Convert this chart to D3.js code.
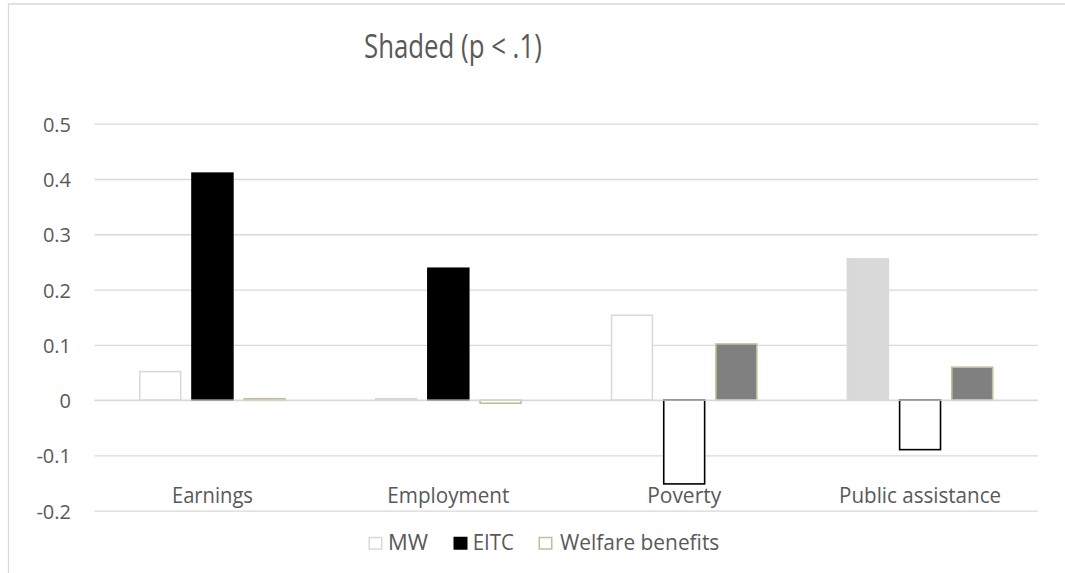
<!DOCTYPE html>
<html>
<head>
<meta charset="utf-8">
<script src="https://cdn.jsdelivr.net/npm/d3@7"></script>
<style>
  html, body { margin: 0; padding: 0; background: #fff; }
  svg { display: block; }
  text { font-family: "Open Sans", "Noto Sans", sans-serif; fill: #595959; }
</style>
</head>
<body>
<svg id="chart" width="1065" height="573"></svg>
<script>
// ---- data ----
const categories = ["Earnings", "Employment", "Poverty", "Public assistance"];
const seriesNames = ["MW", "EITC", "Welfare benefits"];
const mwValues = [0.053, 0.004, 0.155, 0.257];
const eitcValues = [0.412, 0.240, -0.153, -0.091];
const welfareValues = [0.004, -0.007, 0.103, 0.061];
// estimates significant at p < .1 are drawn shaded
const mwShaded = [false, false, false, true];
const eitcShaded = [true, true, false, false];
const welfareShaded = [false, false, true, true];
const yTicks = [-0.2, -0.1, 0, 0.1, 0.2, 0.3, 0.4, 0.5];
const chartTitle = "Shaded (p < .1)";

// ---- styling ----
const seriesStyle = {
  "MW": { stroke: "#d9d9d9", shadedFill: "#d9d9d9" },
  "EITC": { stroke: "#000000", shadedFill: "#000000" },
  "Welfare benefits": { stroke: "#c4bd97", shadedFill: "#808080" }
};
const gridColor = "#d9d9d9";

const series = [
  { name: "MW", values: mwValues, shaded: mwShaded },
  { name: "EITC", values: eitcValues, shaded: eitcShaded },
  { name: "Welfare benefits", values: welfareValues, shaded: welfareShaded }
];

const svg = d3.select("#chart");

// chart frame (left and top edges of the chart area)
svg.append("line").attr("x1", 8.5).attr("x2", 8.5).attr("y1", 4).attr("y2", 573)
  .attr("stroke", gridColor).attr("stroke-width", 1.3);
svg.append("line").attr("x1", 8).attr("x2", 1065).attr("y1", 4).attr("y2", 4)
  .attr("stroke", gridColor).attr("stroke-width", 1.3);

// ---- scales ----
const plotLeft = 94.5, plotRight = 1038;
const x = d3.scaleBand().domain(categories).range([plotLeft, plotRight])
  .paddingInner(0).paddingOuter(0);
const xs = d3.scaleBand().domain(seriesNames).range([0, x.bandwidth()])
  .paddingInner(0.186).paddingOuter(0.852);
const y = d3.scaleLinear().domain([-0.2, 0.5]).range([510.7, 123.7]);

// ---- gridlines ----
const grid = svg.append("g").attr("transform", `translate(${plotLeft},0)`)
  .call(d3.axisLeft(y).tickValues(yTicks).tickSize(-(plotRight - plotLeft)).tickFormat(""));
grid.select(".domain").remove();
grid.selectAll(".tick line").attr("stroke", gridColor).attr("stroke-width", 1.3);

// ---- y-axis labels ----
const yAxis = svg.append("g").attr("transform", "translate(71,0)")
  .call(d3.axisLeft(y).tickValues(yTicks).tickSize(0).tickPadding(0)
    .tickFormat(d => d === 0 ? "0" : d3.format(".1f")(d).replace("−", "-")));
yAxis.select(".domain").remove();
yAxis.selectAll("text")
  .attr("font-size", 20)
  .attr("fill", "#595959")
  .attr("font-family", "'Open Sans', sans-serif")
  .attr("dy", null)
  .attr("dominant-baseline", "central");

// ---- bars ----
const barGroups = svg.append("g").selectAll("g")
  .data(series).join("g");

barGroups.selectAll("rect")
  .data(s => s.values.map((v, i) => ({ name: s.name, cat: categories[i], value: v, shaded: s.shaded[i] })))
  .join("rect")
  .each(function (d) {
    const st = seriesStyle[d.name];
    const sw = 1.6;
    const x0 = x(d.cat) + xs(d.name);
    const yTop = y(Math.max(0, d.value));
    const yBot = y(Math.min(0, d.value));
    d3.select(this)
      .attr("x", x0 + sw / 2)
      .attr("width", xs.bandwidth() - sw)
      .attr("y", yTop + (d.value >= 0 ? sw / 2 : 0))
      .attr("height", Math.max(0.5, yBot - yTop - sw / 2))
      .attr("fill", d.shaded ? st.shadedFill : "#ffffff")
      .attr("stroke", st.stroke)
      .attr("stroke-width", sw);
  });

// zero line drawn over the bar bases
svg.append("line")
  .attr("x1", plotLeft).attr("x2", plotRight)
  .attr("y1", y(0)).attr("y2", y(0))
  .attr("stroke", gridColor).attr("stroke-width", 1.3);

// ---- category labels ----
const labelWidths = { "Earnings": 81, "Employment": 122, "Poverty": 74, "Public assistance": 162 };
const xAxis = svg.append("g").attr("transform", "translate(0,502.7)")
  .call(d3.axisBottom(x).tickSize(0).tickPadding(0));
xAxis.select(".domain").remove();
xAxis.selectAll("text")
  .attr("y", 0)
  .attr("dy", null)
  .attr("font-size", 22)
  .attr("fill", "#595959")
  .attr("font-family", "'Open Sans', sans-serif")
  .attr("textLength", d => labelWidths[d])
  .attr("lengthAdjust", "spacingAndGlyphs");

// ---- title ----
svg.append("text")
  .attr("x", 452.9).attr("y", 58.3)
  .attr("text-anchor", "middle")
  .attr("font-size", 32)
  .attr("textLength", 177.7)
  .attr("lengthAdjust", "spacingAndGlyphs")
  .text(chartTitle);

// ---- legend ----
const legendItems = [
  { name: "MW", markerX: 368.5, textX: 388, textW: 40 },
  { name: "EITC", markerX: 453.5, textX: 472.7, textW: 41.3 },
  { name: "Welfare benefits", markerX: 538.5, textX: 560, textW: 159.3 }
];
const legend = svg.append("g");
legend.selectAll("rect").data(legendItems).join("rect")
  .attr("x", d => d.markerX + 0.75)
  .attr("y", 537.5)
  .attr("width", 12.5)
  .attr("height", 11.5)
  .attr("fill", d => d.name === "EITC" ? "#000" : "#fff")
  .attr("stroke", d => seriesStyle[d.name].stroke)
  .attr("stroke-width", 1.5);
legend.selectAll("text").data(legendItems).join("text")
  .attr("x", d => d.textX)
  .attr("y", 549.5)
  .attr("font-size", 21)
  .attr("textLength", d => d.textW)
  .attr("lengthAdjust", "spacingAndGlyphs")
  .text(d => d.name);
</script>
</body>
</html>
